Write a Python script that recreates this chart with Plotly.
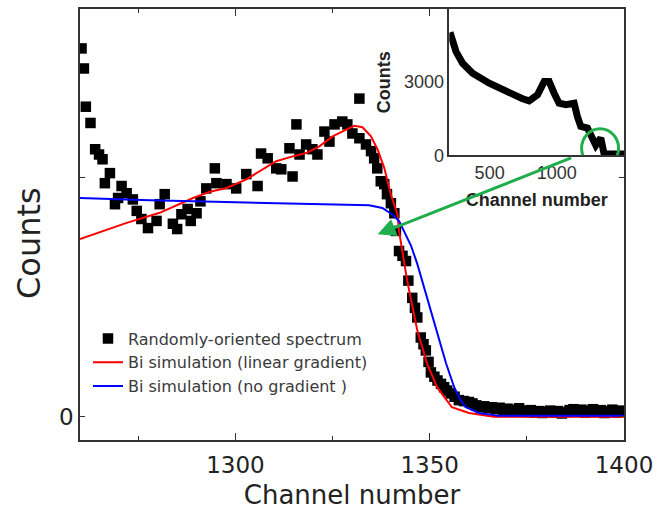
import plotly.graph_objects as go

# ---------------- data ----------------
spec_channel = [1260.4, 1261.0, 1261.5, 1262.7, 1263.9, 1264.9, 1265.8, 1266.4, 1267.7, 1269.0,
                1269.8, 1270.7, 1272.0, 1273.6, 1274.6, 1275.8, 1277.5, 1279.7, 1280.5, 1281.8,
                1283.9, 1285.0, 1286.1, 1287.7, 1288.5, 1290.0, 1291.0, 1292.5, 1294.7, 1295.1,
                1297.7, 1300.2, 1302.8, 1305.7, 1306.6, 1308.3, 1310.5, 1311.8, 1313.9, 1314.7,
                1315.7, 1316.5, 1318.2, 1319.8, 1321.1, 1322.9, 1324.2, 1325.5, 1327.5, 1328.8,
                1330.1, 1331.9, 1331.9, 1333.6, 1334.9, 1335.7, 1336.5, 1337.4, 1338.3, 1339.0,
                1340.0, 1340.9, 1341.3, 1342.1, 1343.0, 1343.9, 1344.5, 1345.5, 1346.2, 1346.8,
                1347.7, 1348.4, 1349.0, 1349.7, 1350.3, 1351.2, 1352.0, 1352.9, 1353.7, 1354.5,
                1355.4, 1356.4, 1357.5, 1358.8, 1360.1,
                1361, 1362, 1363, 1364, 1365, 1366, 1367, 1368, 1369, 1370,
                1371, 1372, 1373, 1374, 1375, 1376, 1377, 1378, 1379, 1380,
                1381, 1382, 1383, 1384, 1385, 1386, 1387, 1388, 1389, 1390,
                1391, 1392, 1393, 1394, 1395, 1396, 1397, 1398, 1399, 1400]
spec_counts = [771, 729, 649, 615, 560, 549, 539, 489, 510, 445,
               458, 483, 468, 455, 431, 414, 395, 410, 445, 466,
               404, 393, 424, 435, 410, 426, 451, 478, 520, 489,
               487, 478, 508, 483, 551, 541, 520, 518, 562, 503,
               612, 549, 570, 560, 549, 597, 576, 612, 618, 612,
               593, 666, 583, 570, 556, 541, 520, 493, 487, 466,
               447, 426, 389, 347, 337, 326, 285, 249, 228, 208,
               166, 152, 139, 115, 93, 84, 76, 69, 62, 55,
               49, 42, 35, 33, 31,
               28, 24, 20, 22, 18, 20, 16, 19, 14, 17,
               12, 15, 18, 13, 10, 14, 9, 12, 8, 11,
               13, 9, 12, 7, 10, 14, 16, 11, 15, 9,
               13, 16, 10, 14, 8, 12, 15, 9, 13, 11]

grad_channel = [1260.0, 1263.4, 1272.0, 1280.5, 1289.1, 1293.4, 1297.7, 1302.8, 1306.2, 1310.5,
                1314.7, 1318.2, 1321.6, 1325.0, 1328.5, 1330.6, 1332.7, 1334.9, 1336.6, 1338.3,
                1340.0, 1341.7, 1342.1, 1344.2, 1346.8, 1349.3, 1351.9, 1355.7, 1360.1, 1366.5, 1400]
grad_counts = [372, 382, 406, 427, 458, 471, 479, 497, 514, 535,
               545, 552, 566, 587, 601, 609, 606, 587, 559, 521,
               465, 424, 389, 285, 181, 112, 62, 20, 8, 0, 0]

nograd_channel = [1260, 1278, 1294.7, 1312.1, 1327.5, 1334.4, 1337.8, 1340.3, 1342.1, 1343.4,
                  1345.2, 1346.8, 1349.3, 1351.6, 1354.2, 1356.3, 1357.8, 1359.3, 1362.7, 1367.8, 1400]
nograd_counts = [458, 453, 450, 447, 445, 443, 437, 424, 410, 389,
                 358, 320, 249, 181, 112, 62, 37, 20, 8, 2, 2]

inset_channel = [205, 250, 299, 373, 497, 621, 745, 794, 856, 906,
                 943, 980, 1017, 1067, 1129, 1153, 1178, 1228, 1265, 1290,
                 1327, 1339, 1352, 1500]
inset_counts = [5000, 4216, 3742, 3337, 2931, 2595, 2299, 2218, 2461, 3000,
                3000, 2526, 2120, 2055, 2120, 1581, 1176, 1107, 568, 405,
                701, 296, 53, 53]

x_range = [1260, 1400]
y_range = [-48.5, 853.5]
inset_x_range = [200, 1500]
inset_y_range = [0, 5950]
y_tickvals = [0, 500]
y_ticktext = ["0", ""]
inset_xticks = [500, 1000]
inset_yticks = [0, 3000]

GREEN = "#1fae4b"
FONT = "DejaVu Sans"
ARIAL = "Liberation Sans"

fig = go.Figure()

fig.add_trace(go.Scatter(
    x=spec_channel, y=spec_counts, mode="markers",
    marker=dict(symbol="square", size=10.5, color="black", line=dict(width=0)),
    name="Randomly-oriented spectrum", xaxis="x", yaxis="y"))
fig.add_trace(go.Scatter(
    x=grad_channel, y=grad_counts, mode="lines", line=dict(color="#ff0000", width=2),
    name="Bi simulation (linear gradient)", xaxis="x", yaxis="y"))
fig.add_trace(go.Scatter(
    x=nograd_channel, y=nograd_counts, mode="lines", line=dict(color="#0000ff", width=2),
    name="Bi simulation (no gradient )", xaxis="x", yaxis="y"))

fig.add_trace(go.Scatter(
    x=inset_channel, y=inset_counts, mode="lines", line=dict(color="black", width=7),
    showlegend=False, xaxis="x2", yaxis="y2"))

axis_line = "#333333"

fig.update_layout(
    width=660, height=517,
    margin=dict(l=80, r=35, t=7, b=77),
    paper_bgcolor="white", plot_bgcolor="white",
    showlegend=True,
    legend=dict(x=(88 - 80) / 545, y=(440 - 321) / 433, xanchor="left", yanchor="top",
                bgcolor="rgba(0,0,0,0)", font=dict(family=FONT, size=16, color="#3a3a3a"),
                tracegroupgap=0),
    xaxis=dict(domain=[0, 1], range=x_range, showgrid=False, zeroline=False,
               showline=True, linecolor=axis_line, linewidth=1.5, mirror="ticks",
               ticks="inside", ticklen=7, tickwidth=1.2, tickcolor=axis_line,
               tick0=1300, dtick=50,
               minor=dict(dtick=25, ticks="inside", ticklen=4, tickcolor=axis_line, showgrid=False),
               tickfont=dict(family=FONT, size=23, color="#222222"),
               ticklabelstandoff=4,
               title=dict(text="Channel number", font=dict(family=FONT, size=26, color="#222222"),
                          standoff=8)),
    yaxis=dict(domain=[0, 1], range=y_range, showgrid=False, zeroline=False,
               showline=True, linecolor=axis_line, linewidth=1.5, mirror="ticks",
               ticks="inside", ticklen=5, tickwidth=1.2, tickcolor=axis_line,
               tickmode="array", tickvals=y_tickvals, ticktext=y_ticktext,
               tickfont=dict(family=FONT, size=23, color="#222222")),
    xaxis2=dict(domain=[(450 - 80) / 545, 1], range=inset_x_range, anchor="y2",
                showgrid=False, zeroline=False, showline=True, linecolor=axis_line, linewidth=1.5,
                ticks="", tickmode="array", tickvals=inset_xticks,
                tickfont=dict(family=ARIAL, size=18, color="#333333"),
                title=dict(text="<b>Channel number</b>", font=dict(family=ARIAL, size=18, color="#222222"),
                           standoff=12)),
    yaxis2=dict(domain=[(440 - 154) / 433, 1], range=inset_y_range, anchor="x2",
                showgrid=False, zeroline=False, showline=True, linecolor=axis_line, linewidth=1.5,
                ticks="outside", ticklen=0, tickmode="array", tickvals=inset_yticks,
                tickfont=dict(family=ARIAL, size=18, color="#333333"),
                title=dict(text="<b>Counts</b>", font=dict(family=ARIAL, size=18, color="#222222"),
                           standoff=9)),
)

# main y-axis title placed like the reference (slightly below the plot centre)
fig.add_annotation(text="Counts", xref="paper", yref="paper",
                   x=-(80 - 29) / 545, y=(440 - 242) / 433, xanchor="center", yanchor="middle",
                   textangle=-90, showarrow=False,
                   font=dict(family=FONT, size=32, color="#222222"))

# green circle around the zoomed region in the inset
fig.add_shape(type="circle", xref="x2", yref="y2", xsizemode="pixel", ysizemode="pixel",
              xanchor=1322, yanchor=284, x0=-18.5, x1=18.5, y0=-19.5, y1=19.5,
              line=dict(color=GREEN, width=3))

# green arrow pointing to the main plot edge
fig.add_annotation(x=1336.6, y=382, xref="x", yref="y", ax=195, ay=-77,
                   text="", showarrow=True, arrowhead=2, arrowsize=1.2, arrowwidth=3,
                   arrowcolor=GREEN, standoff=0)

fig.write_html("out.html")
